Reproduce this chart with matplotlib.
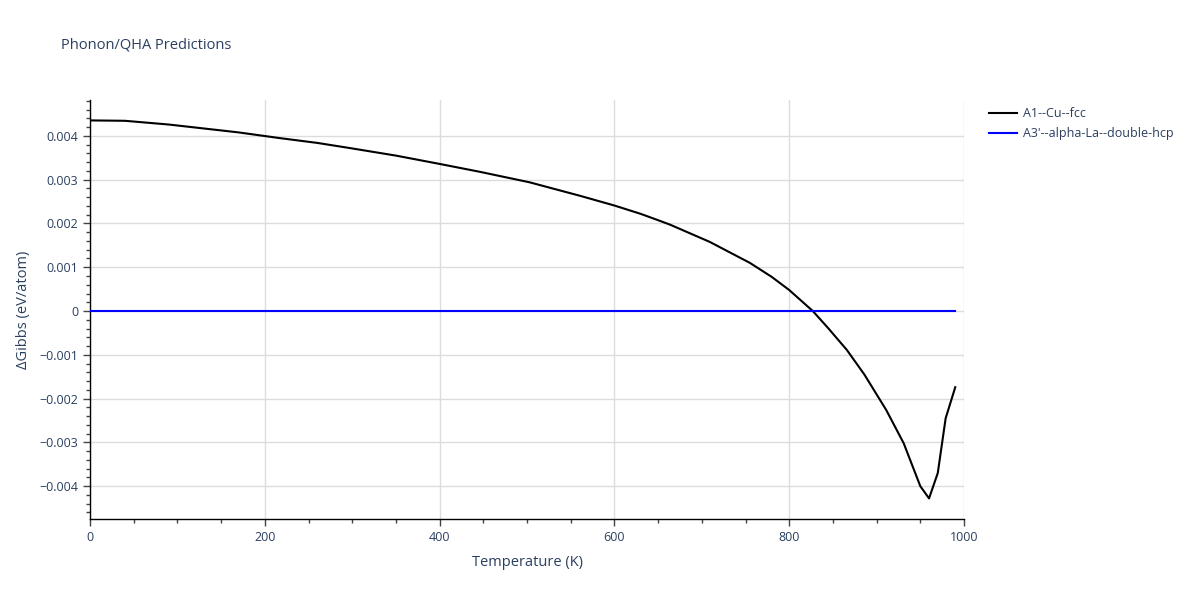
import matplotlib
matplotlib.use("Agg")
import matplotlib.pyplot as plt
from matplotlib.ticker import MultipleLocator, FuncFormatter

# Data
temps_cu = [0, 40, 90, 130, 170, 217, 260, 298, 350, 400, 446, 503, 561, 600,
            630, 652, 664, 709, 755, 780, 800, 827, 845, 866, 886,
            911, 931, 950, 960, 970, 979, 990]
dg_cu = [0.004354, 0.004345, 0.00426, 0.00417, 0.00408, 0.00395, 0.00384,
         0.00372, 0.00355, 0.00336, 0.00318, 0.00294, 0.00263, 0.00241,
         0.00222, 0.00206, 0.00197, 0.00158, 0.00110, 0.00078,
         0.00048, 0.00000, -0.00040, -0.00089, -0.00145, -0.00226,
         -0.00302, -0.00400, -0.00428, -0.00370, -0.00245, -0.00174]
temps_la = [0, 990]
dg_la = [0.0, 0.0]

series_names = ["A1--Cu--fcc", "A3'--alpha-La--double-hcp"]
series_colors = ["#000000", "#0000ff"]

text_color = "#2a3f5f"
plt.rcParams['font.family'] = ['Open Sans', 'DejaVu Sans']

fig = plt.figure(figsize=(12, 6), dpi=100)
ax = fig.add_axes([90/1200, 1 - 519/600, (964-90)/1200, (519-100)/600])

ax.plot(temps_cu, dg_cu, color=series_colors[0], lw=1.5, label=series_names[0], zorder=3)
ax.plot(temps_la, dg_la, color=series_colors[1], lw=1.5, label=series_names[1], zorder=3)

ax.set_xlim(0, 1000)
ax.set_ylim(-0.00475, 0.00482)

ax.xaxis.set_major_locator(MultipleLocator(200))
ax.xaxis.set_minor_locator(MultipleLocator(50))
ax.yaxis.set_major_locator(MultipleLocator(0.001))
ax.yaxis.set_minor_locator(MultipleLocator(0.0002))

def yfmt(v, pos):
    if abs(v) < 1e-12:
        return "0"
    s = f"{v:.3f}"
    return s.replace("-", "\u2212")
ax.yaxis.set_major_formatter(FuncFormatter(yfmt))
ax.xaxis.set_major_formatter(FuncFormatter(lambda v, p: f"{int(v)}"))

ax.grid(True, which='major', color='#dcdcdc', lw=1, zorder=0)
for s in ['top', 'right']:
    ax.spines[s].set_visible(False)
for s in ['left', 'bottom']:
    ax.spines[s].set_color('#000000')
    ax.spines[s].set_linewidth(1)

ax.tick_params(axis='both', which='major', direction='out', length=5, width=1,
               color='#444444', labelcolor=text_color, labelsize=9)
ax.tick_params(axis='both', which='minor', direction='out', length=3, width=1,
               color='#444444')

ax.set_xlabel("Temperature (K)", color=text_color, fontsize=10.5, labelpad=8)
ax.set_ylabel("\u0394Gibbs (eV/atom)", color=text_color, fontsize=10.5, labelpad=6)

fig.text(61/1200, 1 - 45/600, "Phonon/QHA Predictions", color=text_color,
         fontsize=10.5, va='center', ha='left')

leg = ax.legend(loc='upper left', bbox_to_anchor=(980/874 - 90/874 + 0.005, 1.0 - 2/419),
                frameon=False, fontsize=9, handlelength=2.2, handletextpad=0.5,
                labelspacing=0.6, borderaxespad=0)
for t in leg.get_texts():
    t.set_color(text_color)

fig.savefig("out.png", dpi=100)
